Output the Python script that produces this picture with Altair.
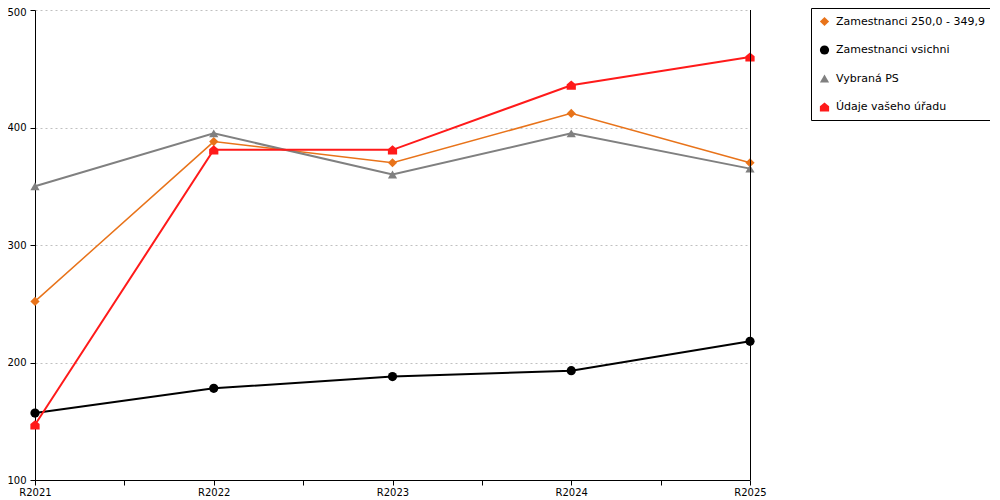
import json
import altair as alt
import pandas as pd

years = ["R2021", "R2022", "R2023", "R2024", "R2025"]
series = ["Zamestnanci 250,0 - 349,9", "Zamestnanci vsichni", "Vybraná PS", "Údaje vašeho úřadu"]
orange_vals = [252, 388, 370, 412, 370]
black_vals = [157, 178, 188, 193, 218]
gray_vals = [350, 395, 360, 395, 365]
red_vals = [147, 381, 381, 436, 460]

colors = ["#e8731a", "#000000", "#808080", "#ff1a1a"]
shapes = ["diamond", "circle", "triangle-up", "M-1,1L-1,-0.15L0,-1L1,-0.15L1,1Z"]

rows = []
for s, vals in zip(series, [orange_vals, black_vals, gray_vals, red_vals]):
    for i, (yr, v) in enumerate(zip(years, vals)):
        rows.append({"series": s, "idx": i, "year": yr, "value": v})
df = pd.DataFrame(rows)

label_expr = "datum.value % 1 == 0 ? " + json.dumps(years) + "[datum.value] : ''"

x_enc = alt.X(
    "idx:Q",
    scale=alt.Scale(domain=[0, len(years) - 1], nice=False, zero=False),
    axis=alt.Axis(
        title=None, values=[i * 0.5 for i in range(2 * len(years) - 1)],
        labelExpr=label_expr, grid=False, domainColor="black", tickColor="black",
        tickSize=5, labelColor="black", labelFontSize=10, labelFont="DejaVu Sans",
        labelPadding=2, labelFlush=False, labelOverlap=False,
    ),
)
y_enc = alt.Y(
    "value:Q",
    scale=alt.Scale(domain=[100, 500], nice=False, zero=False),
    axis=alt.Axis(
        title=None, values=[100, 200, 300, 400, 500], grid=True,
        gridDash=[2, 3], gridColor="#c0c0c0", domainColor="black",
        tickColor="black", tickSize=5, labelColor="black", labelFontSize=10,
        labelFont="DejaVu Sans", labelPadding=4,
        labelOffset={"condition": {"test": "datum.value == 500", "value": 2}, "value": 0},
    ),
)

color_scale = alt.Scale(domain=series, range=colors)
color_enc = alt.Color("series:N", scale=color_scale, sort=series, title=None)

base = alt.Chart(df)
line_thin = base.transform_filter(alt.datum.series == series[0]).mark_line(strokeWidth=1.5).encode(
    x=x_enc, y=y_enc, color=color_enc,
)
line_thick = base.transform_filter(alt.datum.series != series[0]).mark_line(strokeWidth=2).encode(
    x=x_enc, y=y_enc, color=color_enc,
)

points = base.mark_point(filled=True, opacity=1, size=85).encode(
    x=x_enc, y=y_enc,
    color=color_enc,
    shape=alt.Shape("series:N", scale=alt.Scale(domain=series, range=shapes), sort=series, title=None),
)

right_rule = alt.Chart(pd.DataFrame({"idx": [len(years) - 1]})).mark_rule(
    color="black", strokeWidth=1, xOffset=0.5
).encode(x=alt.X("idx:Q"))

chart = alt.layer(line_thin, line_thick, points, right_rule).properties(
    width=715, height=470,
    autosize=alt.AutoSizeParams(type="none"),
    padding={"left": 27, "top": 2, "right": 240, "bottom": 18},
).configure_view(stroke=None).configure_legend(
    orient="none", legendX=776, legendY=-2,
    strokeColor="black", fillColor="white", padding=8,
    labelFontSize=11, labelFont="DejaVu Sans", labelColor="black",
    symbolSize=85, rowPadding=16.5, labelOffset=6, symbolStrokeWidth=0,
    labelLimit=300,
)

chart.save("out.html", embed_options={"renderer": "svg", "actions": False})
